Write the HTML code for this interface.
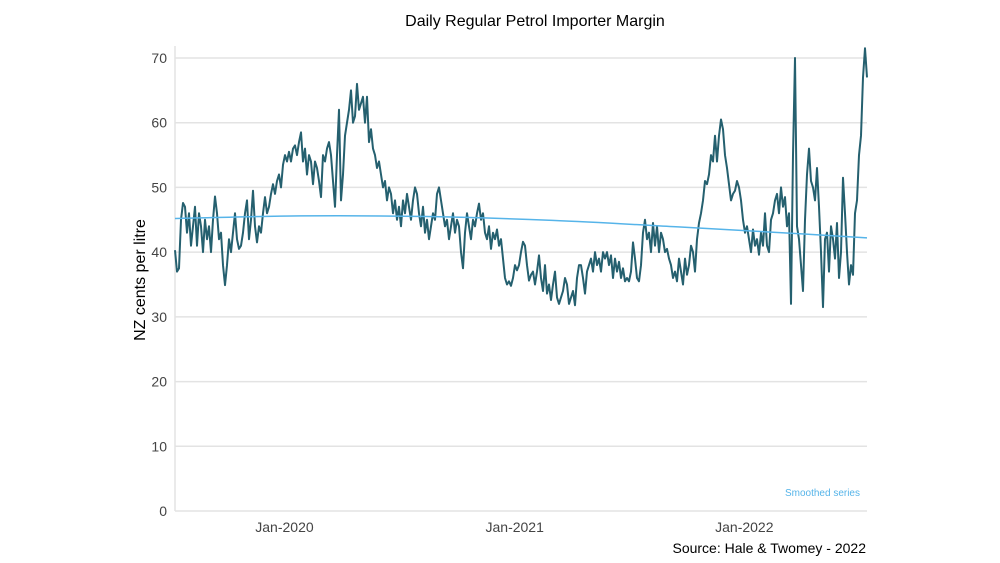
<!DOCTYPE html>
<html><head><meta charset="utf-8"><style>
body{margin:0;background:#fff;}
svg{display:block;font-family:"Liberation Sans",sans-serif;}
</style></head><body>
<svg id="chart" width="1000" height="563">
<text x="535" y="26" text-anchor="middle" font-size="16" fill="#000">Daily Regular Petrol Importer Margin</text>
<text transform="translate(145,280) rotate(-90)" text-anchor="middle" font-size="16" fill="#000">NZ cents per litre</text>
<g id="grid"></g><g id="yt"></g><g id="xt"></g>
<g id="series"></g>
<text x="860" y="496" text-anchor="end" font-size="10" fill="#56b4e9">Smoothed series</text>
<text x="866" y="553" text-anchor="end" font-size="14" fill="#000">Source: Hale &amp; Twomey - 2022</text>
</svg>
<script>
const yTicks=[0,10,20,30,40,50,60,70];
const xTickLabels=["Jan-2020","Jan-2021","Jan-2022"];
const xTickDays=[174,540,905];
const startDay=0, endDay=1100;
const margin=[40.3,37,37.5,45,47.6,47,43,46,41,44,47,41,46,44,40,45,42,44,40,45,48.6,46,42,43,38,34.9,38,42,40,43,46,42,40.5,41,43,46,48,42,45,49.5,44,41.5,44,43,46,48.5,46,47,49,50.5,49,51,52,50,53.5,55,54,55.5,54,56,56.5,55,57,58.5,54,56,52,55,54,50.5,54,53,51,48.5,55,54,56,57,55,51,47,55,62,48,52,58,60,62,65,60,61,66,62,63,64,60,64,57,59,56,55,53,54,52,50,51,48,50,49,46,48,45,47,44,48,46,49,47,45,48,50,49,46,44,47,43,45,42,44,46,45,49,50,48,46,44,45,42,44,46,43,45,44,40,37.5,43,46,44,42,45,44,46,47.5,45,46,43,42,44,40.5,43,42,43.5,41,42,39,36,35,35.5,34.8,36,38,37.2,38,40,41.6,41,38,35.6,36.5,37,35,37,39.5,36,34,38,33.6,35,32.6,35,37,33,32,33,34,36,35,32,33,34,31.8,36,38,38,36,33.6,37,38,39,37,40,38,39,37,40,39,40,38,39.5,36,39,37,38.5,36,37.5,35.5,36,35.5,37,41.5,39,36,35.5,38,43,45,42,43,40,44.5,41,44,40,43,42,40,40.5,39,38,36,37,35.5,39,37,35,39,36.5,38,41,40,37,42,44.5,46,48,51,50.5,52,55,54,58,54,58,60.5,59,55,53,50.5,48,49,49.5,51,50,48,45,43,44,42,40,43.5,41,42,39.6,43,41,46,41,40,45,46,48,49,46,50,47,48.5,44,46,32,55,70,44,42,38,34,45,52,56,51,50,48,53,47,40,31.5,42,43,37,44,42,39,44.5,36,40,51.5,46,40,35,38,36.5,46,48,55,58,67,71.5,67];
const smoothDays=[0,200,400,600,800,1000,1100];
const smoothVals=[45.2,45.6,45.5,44.9,43.9,42.8,42.2];
const X0=175,X1=867,Y0=511,Y1=58;
const xs=d=>X0+(d-startDay)/(endDay-startDay)*(X1-X0);
const ys=v=>Y0-(v/70)*(Y0-Y1);
const NS="http://www.w3.org/2000/svg";
function mk(tag,attrs,parent){const e=document.createElementNS(NS,tag);for(const k in attrs)e.setAttribute(k,attrs[k]);parent.appendChild(e);return e;}
const grid=document.getElementById('grid'),yt=document.getElementById('yt'),xt=document.getElementById('xt'),ser=document.getElementById('series');
yTicks.forEach(t=>{
  const l=mk('line',{x1:X0,x2:X1,y1:ys(t),y2:ys(t),stroke:'#e3e3e3','stroke-width':1.5},grid);
  
  
  const tx=mk('text',{x:167,y:ys(t)+5,'text-anchor':'end','font-size':14,fill:'#444'},yt);
  tx.textContent=t;
  
  
});
const ax=mk('line',{x1:X0,x2:X0,y1:Y1-12,y2:Y0,stroke:'#e3e3e3','stroke-width':1.5},grid);


xTickLabels.forEach((lab,i)=>{
  const tx=mk('text',{x:xs(xTickDays[i]),y:532,'text-anchor':'middle','font-size':14,fill:'#444'},xt);
  tx.textContent=lab;
  
  
});
const n=margin.length;
const pts=margin.map((v,i)=>xs(startDay+i*(endDay-startDay)/(n-1)).toFixed(1)+','+ys(v).toFixed(1)).join(' ');
const pl=mk('polyline',{points:pts,fill:'none',stroke:'#25606f','stroke-width':2,'stroke-linejoin':'round'},ser);


// smooth curve via catmull-rom
const sp=smoothDays.map((d,i)=>[xs(d),ys(smoothVals[i])]);
let dstr='M'+sp[0][0]+','+sp[0][1];
for(let i=0;i<sp.length-1;i++){const p0=sp[Math.max(0,i-1)],p1=sp[i],p2=sp[i+1],p3=sp[Math.min(sp.length-1,i+2)];
 dstr+=' C'+(p1[0]+(p2[0]-p0[0])/6)+','+(p1[1]+(p2[1]-p0[1])/6)+' '+(p2[0]-(p3[0]-p1[0])/6)+','+(p2[1]-(p3[1]-p1[1])/6)+' '+p2[0]+','+p2[1];}
const sm=mk('path',{d:dstr,fill:'none',stroke:'#56b4e9','stroke-width':1.5},ser);


</script>
</body></html>
